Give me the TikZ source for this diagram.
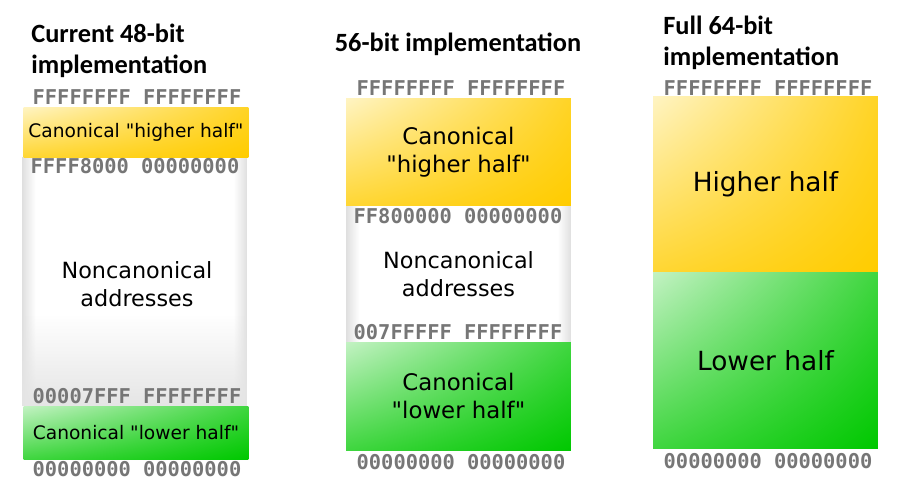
\documentclass[tikz,border=0pt]{standalone}
\usepackage{fontspec}
\usetikzlibrary{shadings,fadings}
\setmainfont{DejaVu Sans}[Ligatures=TeXOff]
\newfontfamily\titlefont{Carlito}
\newfontfamily\addrfont{DejaVu Sans Mono}
\definecolor{YD}{RGB}{255,204,0}
\definecolor{YL}{RGB}{255,244,195}
\definecolor{GD}{RGB}{0,200,0}
\definecolor{GL}{RGB}{195,242,195}
\definecolor{AG}{RGB}{118,118,118}
\pgfdeclarehorizontalshading{ncshade}{100bp}{color(0bp)=(gray!25); color(25bp)=(gray!25);
  color(28bp)=(white); color(72bp)=(white); color(75bp)=(gray!25); color(100bp)=(gray!25)}

\tikzset{
  coltitle/.style={font=\titlefont\bfseries\fontsize{15}{18}\selectfont, align=left, inner sep=0pt},
  addr/.style={font=\addrfont\bfseries\fontsize{11.6}{12}\selectfont, text=AG, inner sep=0pt},
  hibox/.style={shade, upper left=YL, upper right=YD!85!white, lower left=YD!80!white, lower right=YD,
    minimum width=4.5cm, inner sep=0pt, align=center},
  lobox/.style={shade, upper left=GL, upper right=GD!75!white, lower left=GD!75!white, lower right=GD,
    minimum width=4.5cm, inner sep=0pt, align=center},
  ncbox/.style={shading=ncshade, minimum width=4.5cm, inner sep=0pt, align=center},
}

\begin{document}
\begin{tikzpicture}[x=0.02cm, y=-0.02cm]
    \fill[white] (0,0) rectangle (902,501);
    \useasboundingbox (0,0) rectangle (902,501);

    % current 48-bit
    \node[coltitle, anchor=west] (t48) at (31,51) {Current 48-bit\\implementation};
    \node[ncbox, minimum height=4.98cm] (nc48) at (134.5,281.5) {};
    \fill[gray!20, path fading=north] (22,315) rectangle (247,406);
    \node[hibox, minimum height=1cm, font=\fontsize{10.6}{12}\selectfont] (hi48) at (136,132) {Canonical "higher half"};
    \node[lobox, minimum height=1.06cm, font=\fontsize{10.6}{12}\selectfont] (lo48) at (136,432.5) {Canonical "lower half"};
    \node[font=\fontsize{12.7}{16}\selectfont, align=center] (nct48) at (137,284) {Noncanonical\\addresses};
    \node[addr] (a48a) at (137,97)  {FFFFFFFF FFFFFFFF};
    \node[addr] (a48b) at (135,166) {FFFF8000 00000000};
    \node[addr] (a48c) at (137,396) {00007FFF FFFFFFFF};
    \node[addr] (a48d) at (137,469) {00000000 00000000};

    % 56-bit
    \node[coltitle] (t56) at (458,44) {56-bit implementation};
    \node[ncbox, minimum height=2.72cm, font=\fontsize{12.7}{16}\selectfont] (nc56) at (458.5,274) {Noncanonical\\addresses};
    \node[hibox, minimum height=2.16cm, font=\fontsize{13}{16}\selectfont] (hi56) at (458.5,152) {Canonical\\"higher half"};
    \node[lobox, minimum height=2.16cm, font=\fontsize{13}{16}\selectfont] (lo56) at (458.5,396) {Canonical\\"lower half"};
    \node[addr] (a56a) at (461,88)  {FFFFFFFF FFFFFFFF};
    \node[addr] (a56b) at (458,216) {FF800000 00000000};
    \node[addr] (a56c) at (458,332) {007FFFFF FFFFFFFF};
    \node[addr] (a56d) at (461,462) {00000000 00000000};

    % full 64-bit
    \node[coltitle, anchor=west] (t64) at (663,43) {Full 64-bit\\implementation};
    \node[hibox, minimum height=3.52cm, font=\fontsize{15}{18}\selectfont] (hi64) at (765.5,184) {Higher half};
    \node[lobox, minimum height=3.54cm, font=\fontsize{15}{18}\selectfont] (lo64) at (765.5,360.5) {Lower half};
    \node[addr] (a64a) at (768,88)  {FFFFFFFF FFFFFFFF};
    \node[addr] (a64b) at (768,461) {00000000 00000000};
\end{tikzpicture}
\end{document}
